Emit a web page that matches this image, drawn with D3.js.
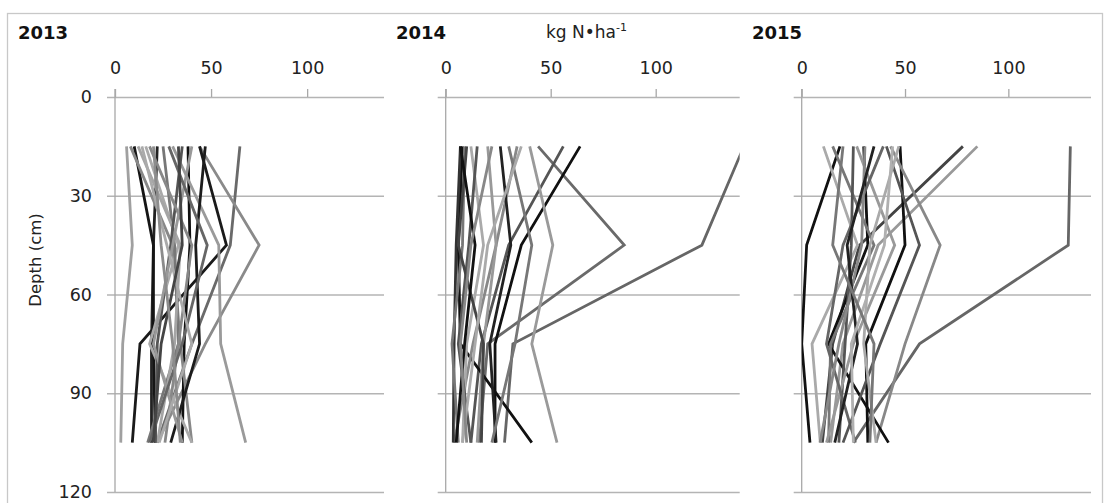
<!DOCTYPE html>
<html>
<head>
<meta charset="utf-8">
<script src="https://cdn.jsdelivr.net/npm/d3@7"></script>
<style>
  body { margin: 0; background: #fff; }
  .tick text { font-family: "DejaVu Sans", sans-serif; font-size: 17.5px; fill: #222; }
</style>
</head>
<body>
<div id="chart"></div>
<script>
// depths where soil N was sampled (cm)
var depths = [15, 45, 75, 105];
var xTicks = [0, 50, 100];
var yTicks = [0, 30, 60, 90, 120];
var years = ["2013", "2014", "2015"];

// kg N / ha per site, one row per line, values at 15/45/75/105 cm
var n2013 = [
  [65, 60, 40, 22], [44, 75, 47, 22], [38, 39, 36, 35], [44, 58, 13, 9],
  [22, 20, 19, 19], [10, 20, 20, 21], [30, 54, 55, 68], [6, 9, 4, 3],
  [8, 30, 34, 40], [16, 33, 18, 40], [47, 42, 44, 29], [25, 31, 33, 17],
  [12, 34, 31, 22], [35, 29, 22, 21], [18, 40, 33, 26], [40, 30, 20, 35],
  [28, 48, 35, 18], [14, 27, 40, 23], [33, 35, 24, 20], [20, 24, 30, 34]
];
var n2014 = [
  [142, 122, 32, 28], [44, 85, 20, 16], [64, 36, 23.5, 23.5], [56, 30, 17, 12],
  [40, 51, 41, 53], [8, 6, 7, 41], [34, 24, 13, 4], [7, 5, 4, 3.6],
  [9, 8, 3, 6], [12, 18, 10, 8], [15, 11, 6, 12], [20, 24, 18, 15],
  [26, 31, 21, 24], [30, 41, 33, 22], [10, 6, 18, 17], [36, 20, 14, 8],
  [7, 14, 9, 5], [22, 12, 7, 10]
];
var n2015 = [
  [130, 129, 57, 25], [18.5, 2.4, 0, 4], [78, 28, 15, 10], [85, 37, 20, 14],
  [47.6, 50, 31, 32], [43, 67, 50, 36], [30, 32, 13, 42], [10.5, 27, 5, 9],
  [15, 35, 14, 13], [25, 24, 21, 18], [26.6, 45, 25, 12], [39.5, 20, 12, 26],
  [41, 57, 38, 20], [47, 33, 30, 36], [30.6, 29, 18, 8.9], [35, 22, 27, 16],
  [44, 40, 24, 25], [20, 15, 35, 33]
];

// grey shades, one per line of each panel
var shades2013 = ["#6a6a6a", "#8a8a8a", "#111", "#1a1a1a", "#222", "#151515", "#9a9a9a", "#a0a0a0",
  "#888", "#aaa", "#1c1c1c", "#777", "#a5a5a5", "#555", "#888", "#999", "#666", "#aaa", "#444", "#8c8c8c"];
var shades2014 = ["#666", "#6a6a6a", "#111", "#555", "#9a9a9a", "#111", "#888", "#333",
  "#777", "#aaa", "#555", "#999", "#222", "#777", "#444", "#aaa", "#111", "#888"];
var shades2015 = ["#666", "#111", "#444", "#999", "#111", "#888", "#111", "#aaa",
  "#777", "#555", "#999", "#666", "#555", "#aaa", "#888", "#222", "#b0b0b0", "#777"];

var panelData = [n2013, n2014, n2015];
var panelShades = [shades2013, shades2014, shades2015];
var panelRange = [[115, 384], [445.7, 739.7], [801.7, 1091]];
var titleX = [18, 396, 752];

var svg = d3.select("#chart").append("svg")
  .attr("width", 1109)
  .attr("height", 503);

// outer chart border
svg.append("rect")
  .attr("x", 7.5).attr("y", 13.5)
  .attr("width", 1095).attr("height", 500)
  .attr("fill", "none")
  .attr("stroke", "#c8c8c8")
  .attr("stroke-width", 1.3);

var yScale = d3.scaleLinear().domain([0, 120]).range([97, 492]);

panelData.forEach(function(rows, p) {
  var r = panelRange[p];
  var xScale = d3.scaleLinear().domain([0, 140]).range(r);
  var g = svg.append("g");
  var w = r[1] - r[0];

  // horizontal grid + left ticks
  var leftAxis = d3.axisLeft(yScale).tickValues(yTicks).tickSize(0).tickPadding(23);
  var ya = g.append("g")
    .attr("transform", `translate(${r[0]}, 0)`)
    .call(leftAxis);
  ya.select(".domain").remove();
  ya.selectAll(".tick line")
    .attr("x1", -8).attr("x2", w)
    .attr("stroke", "#b4b4b4")
    .attr("stroke-width", 1.3);
  if (p > 0) ya.selectAll(".tick text").remove();

  // vertical axis at x = 0
  g.append("line")
    .attr("x1", xScale(0)).attr("x2", xScale(0))
    .attr("y1", 89).attr("y2", yScale(120))
    .attr("stroke", "#a8a8a8").attr("stroke-width", 1.3);

  // top value axis
  var topAxis = d3.axisTop(xScale).tickValues(xTicks).tickSize(8).tickSizeOuter(0).tickPadding(15);
  var xa = g.append("g")
    .attr("transform", `translate(0, ${yScale(0)})`)
    .call(topAxis);
  xa.select(".domain").remove();
  xa.selectAll(".tick line").attr("stroke", "#a8a8a8").attr("stroke-width", 1.3);

  // clip lines to plot area
  svg.append("clipPath").attr("id", "clip" + p)
    .append("rect")
    .attr("x", r[0]).attr("y", yScale(0))
    .attr("width", w).attr("height", yScale(120) - yScale(0));

  var line = d3.line()
    .x(d => xScale(d[0]))
    .y(d => yScale(d[1]));

  g.append("g")
    .attr("clip-path", `url(#clip${p})`)
    .selectAll("path")
    .data(rows)
    .enter()
    .append("path")
    .attr("d", d => line(d.map((v, i) => [v, depths[i]])))
    .attr("fill", "none")
    .attr("stroke", (d, i) => panelShades[p][i % panelShades[p].length])
    .attr("stroke-width", 2.8)
    .attr("stroke-linejoin", "miter");

  // year label
  svg.append("text")
    .attr("x", titleX[p]).attr("y", 39)
    .attr("font-family", "DejaVu Sans, sans-serif")
    .attr("font-weight", "bold")
    .attr("font-size", "18px")
    .attr("fill", "#111")
    .text(years[p]);
});

// unit label
var unit = svg.append("text")
  .attr("x", 546).attr("y", 38)
  .attr("font-family", "DejaVu Sans, sans-serif")
  .attr("font-size", "17px")
  .attr("fill", "#222");
unit.append("tspan").text("kg N\u2022ha");
unit.append("tspan").attr("font-size", "11px").attr("dy", "-7").text("-1");

// depth axis title
svg.append("text")
  .attr("transform", "translate(41, 260) rotate(-90)")
  .attr("text-anchor", "middle")
  .attr("font-family", "DejaVu Sans, sans-serif")
  .attr("font-size", "16.5px")
  .attr("fill", "#222")
  .text("Depth (cm)");
</script>
</body>
</html>
